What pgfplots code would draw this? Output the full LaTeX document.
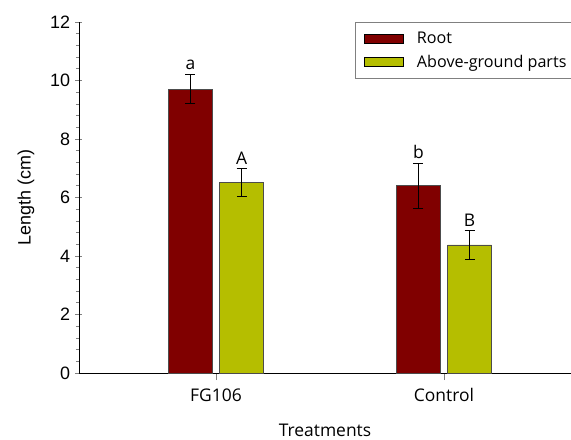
\documentclass[border=0pt]{standalone}
\usepackage{pgfplots}
\pgfplotsset{compat=1.18}
\usepackage{fontspec}
\setmainfont{Open Sans}
\newfontfamily\arialf{Liberation Sans}
\definecolor{rootc}{RGB}{128,0,0}
\definecolor{abovec}{RGB}{181,190,0}
\begin{document}
\begin{tikzpicture}
\begin{axis}[
  scale only axis,
  width=492bp, height=351bp,
  xmin=-0.601, xmax=1.557,
  ymin=0, ymax=12,
  axis x line*=bottom,
  axis y line*=left,
  axis line style={line width=0.7bp},
  xtick={0,1},
  xticklabels={FG106,Control},
  ytick={0,2,4,6,8,10,12},
  minor y tick num=4,
  x tick style={line width=0.7bp},
  xtick align=outside,
  y tick style={line width=0.7bp},
  major tick length=7bp,
  ytick align=center,
  minor tick length=3bp,
  every minor tick/.style={xshift=-1.5bp},
  /pgf/number format/assume math mode=true,
  yticklabel style={font=\arialf\fontsize{18}{20}\selectfont, xshift=-2bp},
  xticklabel style={font=\fontsize{17.5}{20}\selectfont, yshift=-5bp},
  ylabel={Length (cm)},
  every axis y label/.style={at={(-53bp,175.5bp)}, rotate=90, anchor=center, font=\arialf\fontsize{18}{20}\selectfont},
  xlabel={Treatments},
  every axis x label/.style={at={(246bp,-57bp)}, anchor=center, font=\fontsize{17.5}{20}\selectfont},
  legend style={at={(276bp,351bp)}, anchor=north west, draw=gray, line width=0.8bp,
    fill=white, font=\fontsize{16.2}{19}\selectfont, inner xsep=9bp, inner ysep=7.5bp,
    /tikz/row sep=6bp},
  legend cell align=left,
  legend image code/.code={\draw[#1,draw=black,line width=0.6bp] (0bp,-4.5bp) rectangle (39bp,4.5bp); \path (50bp,0bp);},
  clip=false,
]
\addplot[ybar, bar width=44bp, bar shift=-25.5bp, fill=rootc, draw=black!70, line width=0.6bp]
  coordinates {(0,9.70) (1,6.40)};
\addlegendentry{Root}
\addplot[ybar, bar width=44bp, bar shift=25.5bp, fill=abovec, draw=black!70, line width=0.6bp]
  coordinates {(0,6.51) (1,4.38)};
\addlegendentry{Above-ground parts}
\addplot[draw=none, mark=none, forget plot,
  error bars/.cd, y dir=both, y explicit,
  error bar style={black, line width=0.8bp},
  error mark options={rotate=90, mark size=5bp, black, line width=0.8bp}]
  coordinates {(-0.112,9.70) +- (0,0.50) (0.888,6.40) +- (0,0.77)
               (0.112,6.51) +- (0,0.47) (1.112,4.38) +- (0,0.48)};
\addplot[draw=none, mark=none, forget plot, point meta=explicit symbolic,
  nodes near coords,
  every node near coord/.append style={font=\fontsize{17.5}{20}\selectfont, inner sep=1bp, anchor=south, yshift=3.5bp}]
  coordinates {(-0.112,10.20) [a] (0.112,6.98) [A] (0.888,7.17) [b] (1.112,4.86) [B]};
\end{axis}
\pgfresetboundingbox
\path (-79bp,-67bp) rectangle (492bp,373bp);
\end{tikzpicture}
\end{document}
